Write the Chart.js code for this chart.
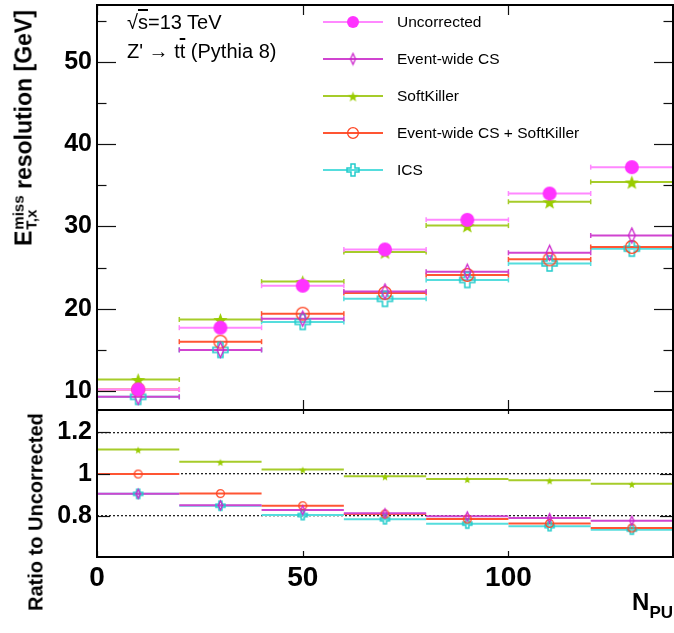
<!DOCTYPE html>
<html>
<head>
<meta charset="utf-8">
<script src="https://cdn.jsdelivr.net/npm/chart.js@4"></script>
<style>
body { margin:0; background:#fff; width:674px; height:633px; overflow:hidden; position:relative; font-family:"Liberation Sans", Arial, sans-serif; color:#000; }
canvas { position:absolute; left:0; }
#res-chart { top:0; }
#ratio-chart { top:400px; }
.note { position:absolute; font-size:20px; line-height:20px; white-space:nowrap; }
.ytitle { position:absolute; font-weight:bold; white-space:nowrap; transform:translate(-50%,-50%) rotate(-90deg); }
.ss { display:inline-block; vertical-align:-0.32em; font-size:15px; line-height:13px; text-align:left; margin-left:1px; }
.ss span { display:block; }
.ovl { text-decoration:overline; }
</style>
</head>
<body>
<canvas id="res-chart" width="674" height="420"></canvas>
<canvas id="ratio-chart" width="674" height="233"></canvas>

<div class="note" style="left:127px; top:12px;">&radic;<span class="ovl">s</span>=13 TeV</div>
<div class="note" style="left:127px; top:41px;">Z' &rarr; t<span class="ovl">t</span> (Pythia 8)</div>
<div class="ytitle" style="left:24px; top:128px; font-size:23px;">E<span class="ss"><span>miss</span><span>T,x</span></span> resolution [GeV]</div>
<div class="ytitle" style="left:36px; top:512px; font-size:20px;">Ratio to Uncorrected</div>
<div style="position:absolute; right:1px; top:590px; font-weight:bold; font-size:24px; line-height:24px;">N<span style="font-size:17px; vertical-align:-0.45em;">PU</span></div>

<script>
// bin edges in number of pileup vertices
const npuEdges = [0, 20, 40, 60, 80, 100, 120, 140];
const xTicks = [0, 50, 100];
const resTicks = [10, 20, 30, 40, 50];
const ratioTicks = [0.8, 1, 1.2];

// MET_x resolution [GeV]
const uncorrected = [10.2, 17.7, 22.8, 27.2, 30.8, 34.0, 37.2];
const eventWideCS = [9.3, 15.0, 18.8, 22.1, 24.5, 26.8, 28.9];
const softKiller = [11.4, 18.7, 23.3, 26.9, 30.1, 33.0, 35.4];
const csSoftKiller = [10.2, 16.0, 19.4, 21.9, 24.1, 26.0, 27.5];
const ics = [9.3, 15.0, 18.4, 21.2, 23.5, 25.5, 27.3];

// ratio to uncorrected
const ratioEventWideCS = [0.905, 0.850, 0.827, 0.812, 0.797, 0.789, 0.776];
const ratioSoftKiller = [1.118, 1.059, 1.022, 0.989, 0.976, 0.970, 0.953];
const ratioCsSoftKiller = [1.0, 0.906, 0.848, 0.808, 0.784, 0.763, 0.741];
const ratioIcs = [0.905, 0.848, 0.803, 0.783, 0.762, 0.750, 0.733];

//draws a ROOT-like marker into a small canvas, used as pointStyle
function makeMarker(kind, size, color){
    const c = document.createElement('canvas');
    c.width = c.height = size + 4;
    const g = c.getContext('2d');
    const m = c.width / 2, r = size / 2;
    g.strokeStyle = color;
    g.fillStyle = color;
    g.lineWidth = 1.3;
    g.beginPath();
    if(kind === 'circle'){
        g.arc(m, m, r, 0, Math.PI * 2);
        g.fill();
    } else if(kind === 'openCircle'){
        g.arc(m, m, r - 0.6, 0, Math.PI * 2);
        g.stroke();
    } else if(kind === 'diamond'){
        const w = r * 0.45;
        g.moveTo(m, m - r); g.lineTo(m + w, m); g.lineTo(m, m + r); g.lineTo(m - w, m);
        g.closePath();
        g.stroke();
    } else if(kind === 'star'){
        for(let i = 0; i < 10; i++){
            const rr = i % 2 === 0 ? r : r * 0.42;
            const a = -Math.PI / 2 + i * Math.PI / 5;
            g.lineTo(m + rr * Math.cos(a), m + 1 + rr * Math.sin(a));
        }
        g.closePath();
        g.fill();
    } else if(kind === 'cross'){
        const a = r / 3;
        const p = [[-a,-r],[a,-r],[a,-a],[r,-a],[r,a],[a,a],[a,r],[-a,r],[-a,a],[-r,a],[-r,-a],[-a,-a]];
        p.forEach(([dx, dy]) => g.lineTo(m + dx, m + dy));
        g.closePath();
        g.lineWidth = 1.5;
        g.stroke();
    }
    return c;
}

const series = [
    {label: 'Uncorrected', values: uncorrected, ratio: null, kind: 'circle', color: '#ff33ff', line: '#ff88ff', big: 14},
    {label: 'Event-wide CS', values: eventWideCS, ratio: ratioEventWideCS, kind: 'diamond', color: '#cc22cc', line: '#d044d0', big: 15},
    {label: 'SoftKiller', values: softKiller, ratio: ratioSoftKiller, kind: 'star', color: '#99cc00', line: '#a6cc2a', big: 15},
    {label: 'Event-wide CS + SoftKiller', values: csSoftKiller, ratio: ratioCsSoftKiller, kind: 'openCircle', color: '#ff4422', line: '#ff5533', big: 14},
    {label: 'ICS', values: ics, ratio: ratioIcs, kind: 'cross', color: '#22cccc', line: '#55dddd', big: 15},
];

//horizontal bin-width bars: two points per bin, then a gap
function segments(values){
    const pts = [];
    values.forEach((v, i) => {
        pts.push({x: npuEdges[i], y: v}, {x: npuEdges[i + 1], y: v}, {x: npuEdges[i + 1], y: null});
    });
    return pts;
}
function centers(values){
    return values.map((v, i) => ({x: (npuEdges[i] + npuEdges[i + 1]) / 2, y: v}));
}

function buildDatasets(key, markerSize, caps){
    const sets = [];
    series.forEach(s => {
        const vals = key === 'values' ? s.values : s.ratio;
        if(!vals) return;
        sets.push({
            type: 'line', data: segments(vals), borderColor: s.line, borderWidth: 2,
            spanGaps: false, order: 10,
            pointStyle: 'line', rotation: 90, pointRadius: caps ? 2.5 : 0,
            pointBorderColor: s.line, pointBorderWidth: 1.5
        });
        sets.push({
            type: 'scatter', data: centers(vals), order: 0,
            pointStyle: makeMarker(s.kind, markerSize(s), s.color)
        });
    });
    return sets;
}

const tickFont = {family: '"Liberation Sans", Arial, sans-serif', weight: 'bold', size: 25};

//fixed axis box, no extra room for label overhang
function fixWidth(s){ s.width = 97; s.paddingTop = 0; s.paddingBottom = 0; }

//frame with inward ROOT-style ticks
const framePlugin = {
    id: 'frame',
    afterDatasetsDraw(chart, args, o){
        const {ctx, chartArea: a, scales: {x, y}} = chart;
        ctx.save();
        ctx.strokeStyle = '#111';
        ctx.lineWidth = 1.2;
        const seg = (x1, y1, x2, y2) => { ctx.beginPath(); ctx.moveTo(x1, y1); ctx.lineTo(x2, y2); ctx.stroke(); };
        o.yMajor.forEach(v => {
            const py = Math.round(y.getPixelForValue(v)) + 0.5;
            seg(a.left, py, a.left + o.yLen, py);
            seg(a.right, py, a.right - o.yLen, py);
        });
        (o.yMinor || []).forEach(v => {
            const py = Math.round(y.getPixelForValue(v)) + 0.5;
            if(py < a.top || py > a.bottom) return;
            seg(a.left, py, a.left + o.yLen / 2, py);
            seg(a.right, py, a.right - o.yLen / 2, py);
        });
        o.xMajor.forEach(v => {
            const px = Math.round(x.getPixelForValue(v)) + 0.5;
            seg(px, a.top, px, a.top + o.xTopLen);
            seg(px, a.bottom, px, a.bottom - o.xBotLen);
        });
        ctx.strokeStyle = '#000';
        ctx.lineWidth = 2;
        ctx.strokeRect(a.left, a.top, a.right - a.left, a.bottom - a.top);
        ctx.restore();
    }
};

const legendPlugin = {
    id: 'resLegend',
    afterDatasetsDraw(chart){
        const ctx = chart.ctx;
        const rows = [22, 59, 96, 133, 170];
        ctx.save();
        ctx.font = '15.5px "Liberation Sans", Arial, sans-serif';
        ctx.textBaseline = 'middle';
        ctx.fillStyle = '#000';
        series.forEach((s, i) => {
            const ly = rows[i];
            ctx.strokeStyle = s.line;
            ctx.lineWidth = 2;
            ctx.beginPath(); ctx.moveTo(323, ly); ctx.lineTo(383, ly); ctx.stroke();
            const img = makeMarker(s.kind, s.kind === 'diamond' || s.kind === 'star' ? 11 : 12, s.color);
            ctx.drawImage(img, 353 - img.width / 2, ly - img.height / 2);
            ctx.fillText(s.label, 397, ly + 1);
        });
        ctx.restore();
    }
};

new Chart(document.getElementById('res-chart'), {
    type: 'line',
    data: {datasets: buildDatasets('values', s => s.big, true)},
    options: {
        responsive: false,
        animation: false,
        layout: {autoPadding: false, padding: {top: 5, right: 1, bottom: 10, left: 0}},
        plugins: {
            legend: {display: false}, tooltip: {enabled: false},
            frame: {yMajor: resTicks, yMinor: resTicks.map(v => v + 5), yLen: 19, xMajor: xTicks, xTopLen: 10, xBotLen: 10}
        },
        scales: {
            x: {type: 'linear', min: 0, max: 140, display: false},
            y: {
                min: 7.7, max: 56.9,
                afterBuildTicks: s => { s.ticks = resTicks.map(v => ({value: v})); },
                afterFit: fixWidth,
                grid: {display: false, drawTicks: false},
                border: {display: false},
                ticks: {padding: 5, color: '#000', font: tickFont}
            }
        }
    },
    plugins: [framePlugin, legendPlugin]
});

new Chart(document.getElementById('ratio-chart'), {
    type: 'line',
    data: {datasets: buildDatasets('ratio', s => s.kind === 'star' ? 8 : 9, false)},
    options: {
        responsive: false,
        animation: false,
        layout: {autoPadding: false, padding: {top: 10, right: 1, bottom: 0, left: 0}},
        plugins: {
            legend: {display: false}, tooltip: {enabled: false},
            frame: {yMajor: ratioTicks, yLen: 13, xMajor: xTicks, xTopLen: 4, xBotLen: 6}
        },
        scales: {
            x: {
                type: 'linear', min: 0, max: 140,
                afterBuildTicks: s => { s.ticks = xTicks.map(v => ({value: v})); },
                afterFit: s => { s.height = 76; s.paddingLeft = 0; s.paddingRight = 0; },
                grid: {display: false, drawTicks: false},
                border: {display: false},
                ticks: {padding: 4, color: '#000', autoSkip: false, maxRotation: 0, font: {...tickFont, size: 28}}
            },
            y: {
                min: 0.602, max: 1.307,
                afterBuildTicks: s => { s.ticks = ratioTicks.map(v => ({value: v})); },
                afterFit: fixWidth,
                grid: {display: true, drawTicks: false, color: '#222', lineWidth: 1.3},
                border: {display: false, dash: [2, 2]},
                ticks: {padding: 5, color: '#000', font: tickFont, callback: v => String(v)}
            }
        }
    },
    plugins: [framePlugin]
});
</script>
</body>
</html>
